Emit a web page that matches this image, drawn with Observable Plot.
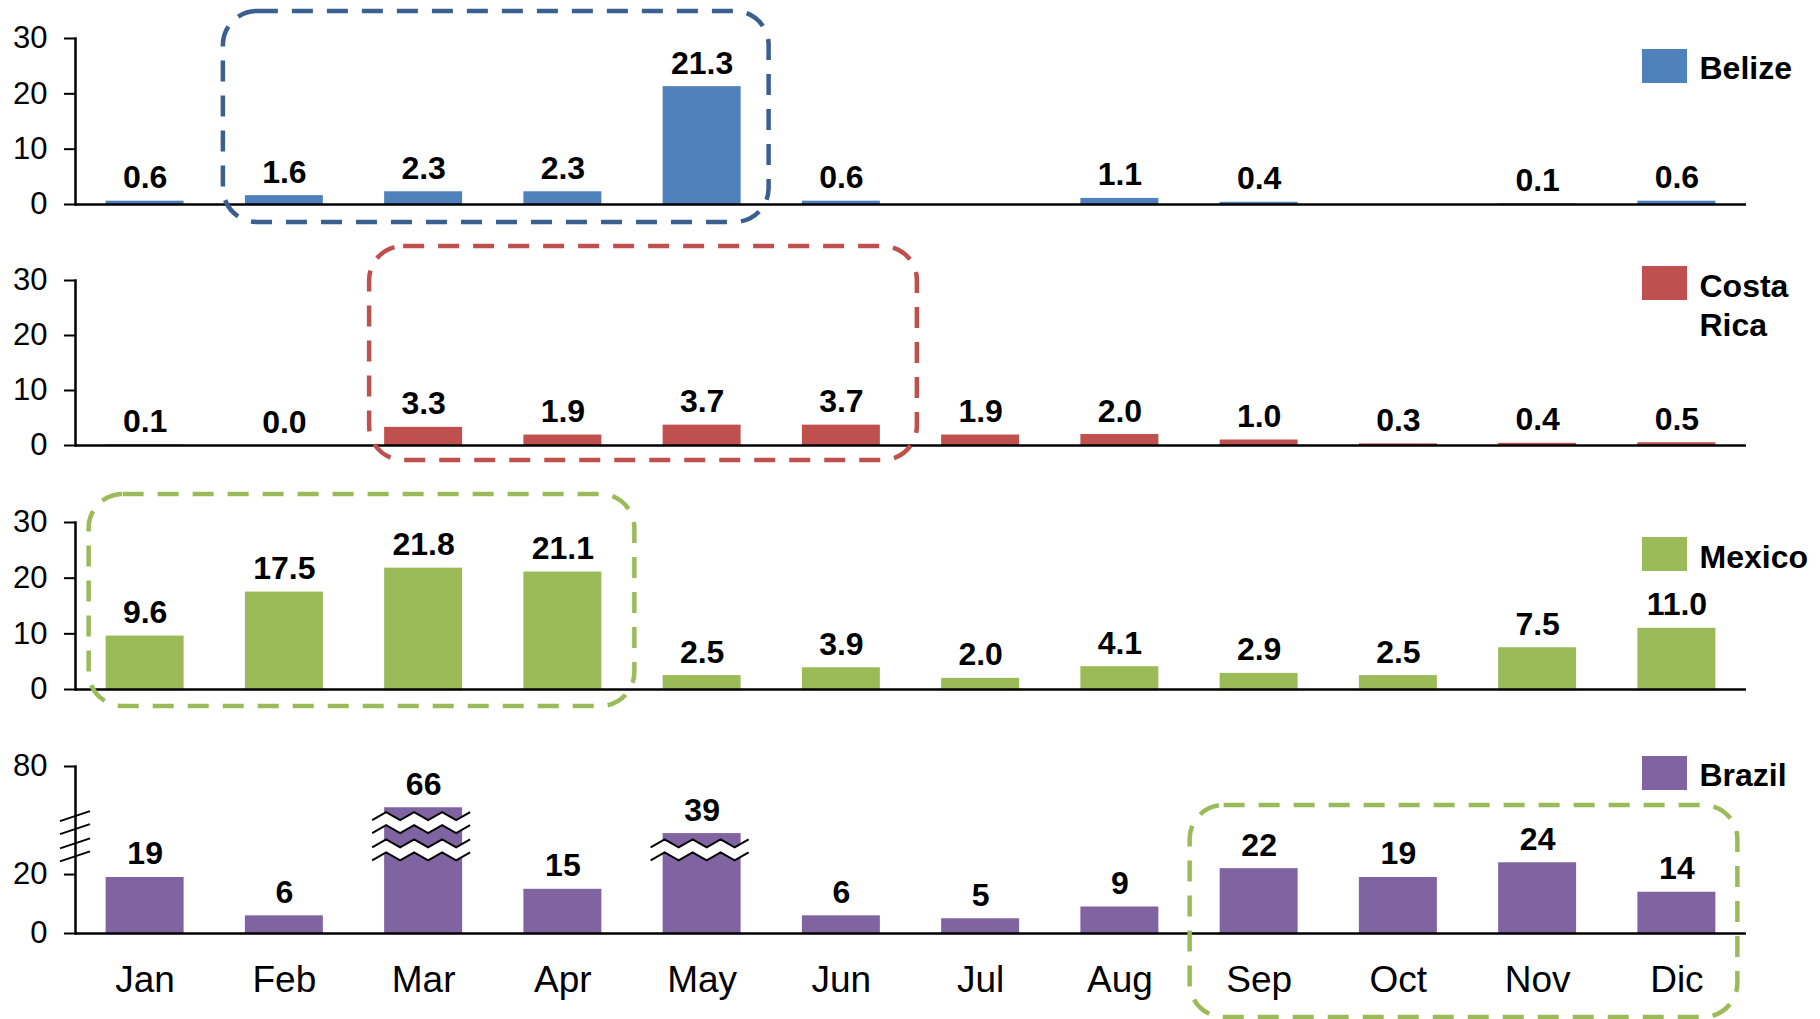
<!DOCTYPE html>
<html><head><meta charset="utf-8">
<script src="https://cdn.jsdelivr.net/npm/d3@7"></script>
<script src="https://cdn.jsdelivr.net/npm/@observablehq/plot@0.6"></script>
<style>
html,body{margin:0;padding:0;background:#fff;overflow:hidden}
#chart{position:relative;width:1820px;height:1019px;overflow:hidden;font-family:"Liberation Sans",Arial,sans-serif}
#chart svg{position:absolute;left:0}
</style></head><body><div id="chart"></div>
<script>
// ---- data ----
const months = ["Jan","Feb","Mar","Apr","May","Jun","Jul","Aug","Sep","Oct","Nov","Dic"];
const belize    = [0.6, 1.6, 2.3, 2.3, 21.3, 0.6, null, 1.1, 0.4, null, 0.1, 0.6];
const costaRica = [0.1, 0.0, 3.3, 1.9, 3.7, 3.7, 1.9, 2.0, 1.0, 0.3, 0.4, 0.5];
const mexico    = [9.6, 17.5, 21.8, 21.1, 2.5, 3.9, 2.0, 4.1, 2.9, 2.5, 7.5, 11.0];
const brazil    = [19, 6, 66, 15, 39, 6, 5, 9, 22, 19, 24, 14];
const seriesLabels = ["Belize", "Costa\nRica", "Mexico", "Brazil"];
const smallTicks = [0, 10, 20, 30];
const brazilTicks = [0, 20, 80];
// broken axis for Brazil: value knots -> axis units (26..63 is squeezed into the break)
const brazilKnots = [0, 26, 39, 63, 80];
const brazilAxisUnits = [0, 26, 33.9, 39.66, 56.66];
const highlights = [["Feb","May"], ["Mar","Jun"], ["Jan","Apr"], ["Sep","Dic"]];

const brokenAxis = d3.scaleLinear().domain(brazilKnots).range(brazilAxisUnits);

// ---- layout / style ----
const panels = [
  {values: belize, label: seriesLabels[0], color: "#4f81bd", fmt: ".1f", ticks: smallTicks,
   domain: [0, 30], top: 0, height: 242, base: 204,
   legendBaseline: 78, swatchTop: 49,
   box: {span: highlights[0], color: "#3b5f8f", l: 22, r: 28, t: 27, b: 18}},
  {values: costaRica, label: seriesLabels[1], color: "#c0504d", fmt: ".1f", ticks: smallTicks,
   domain: [0, 30], top: 242, height: 242, base: 203,
   legendBaseline: 93, swatchTop: 24,
   box: {span: highlights[1], color: "#c0504d", l: 15, r: 37, t: 34, b: 15}},
  {values: mexico, label: seriesLabels[2], color: "#9bbb59", fmt: ".1f", ticks: smallTicks,
   domain: [0, 30], top: 484, height: 244, base: 205,
   legendBaseline: 83, swatchTop: 53,
   box: {span: highlights[2], color: "#9bbb59", l: 17, r: 33, t: 28, b: 17}},
  {values: brazil, label: seriesLabels[3], color: "#8064a2", fmt: "d", ticks: brazilTicks,
   domain: [0, 80], transform: brokenAxis, top: 728, height: 291, base: 205,
   legendBaseline: 57.5, swatchTop: 28, xAxis: true,
   box: {span: highlights[3], color: "#9bbb59", l: 30, r: 22, t: -39, b: 84}}
];

const W = 1820, ML = 75, MR = 74, MT = 38;
const chart = document.getElementById("chart");

function zig(x0, x1, y, amp = 4, half = 14) {
  const pts = [];
  let i = 0;
  for (let x = x0; x <= x1 + 0.01; x += half, i++) pts.push([x, y + (i % 2 ? -amp : amp)]);
  return pts;
}

panels.forEach((p) => {
  const data = months.map((m, i) => ({month: m, value: p.values[i]})).filter(d => d.value != null);
  const fmt = d3.format(p.fmt);
  const tf = p.transform || (v => v);
  const marks = [
    Plot.barY(data, {x: "month", y: "value", fill: p.color}),
    Plot.text(data, {x: "month", y: "value", text: d => fmt(d.value), lineAnchor: "bottom", dy: -13,
      fontSize: 32, fontWeight: "bold", fill: "black"}),
    Plot.ruleY([0], {stroke: "black", strokeWidth: 2.5}),
    Plot.frame({anchor: "left", stroke: "black", strokeWidth: 2.5}),
    Plot.axisY(p.ticks, {tickSize: 11, tickPadding: 17, fontSize: 31, stroke: "black", strokeWidth: 2,
      tickFormat: d3.format("d"), fill: "black", label: null}),
    Plot.text([p.label], {frameAnchor: "top-right", textAnchor: "start", lineAnchor: "bottom",
      dx: 1699 - (W - MR), dy: p.legendBaseline - MT, fontSize: 32, fontWeight: "bold",
      lineHeight: 1.2, fill: "black"})
  ];
  if (p.xAxis) marks.push(Plot.axisX({tickSize: 0, tickPadding: 32, fontSize: 37, fill: "black", label: null}));

  const yOpts = {domain: p.domain.map(tf), label: null};
  if (p.transform) yOpts.transform = p.transform;

  const svg = Plot.plot({
    width: W, height: p.height,
    marginLeft: ML, marginRight: MR, marginTop: MT, marginBottom: p.height - p.base,
    style: {overflow: "visible", background: "transparent", color: "black",
            fontFamily: "'Liberation Sans', Arial, sans-serif"},
    x: {type: "band", domain: months, paddingInner: 0.44, paddingOuter: 0.22, round: false,
        axis: p.xAxis ? undefined : null, label: null},
    y: yOpts,
    marks
  });
  svg.style.top = p.top + "px";
  chart.appendChild(svg);

  const xsc = svg.scale("x"), ysc = svg.scale("y");
  const xs = v => xsc.apply(v);
  const ylin = d3.scaleLinear().domain(ysc.domain).range(ysc.range);
  const ys = v => ylin(tf(v));
  const bw = xsc.bandwidth;
  const g = d3.select(svg).append("g");

  // legend swatch
  g.append("rect").attr("x", 1642).attr("y", p.swatchTop).attr("width", 45).attr("height", 34).attr("fill", p.color);

  // Brazil broken-axis decorations
  if (p.transform) {
    const bands = [[ys(brazilKnots[3]), ys(brazilKnots[3]) + 13], [ys(brazilKnots[1]) - 13, ys(brazilKnots[1])]];
    bands.flat().forEach(y => {
      g.append("line").attr("x1", ML - 15).attr("y1", y + 5).attr("x2", ML + 15).attr("y2", y - 5)
        .attr("stroke", "black").attr("stroke-width", 2);
    });
    const line = d3.line();
    const breakBar = (month, bandList) => {
      const x0 = xs(month) - 12, x1 = xs(month) + bw + 12;
      bandList.forEach(([y0, y1]) => {
        const top = zig(x0, x1, y0), bot = zig(x0, x1, y1);
        g.append("path").attr("d", line(top.concat(bot.slice().reverse())) + "Z").attr("fill", "white");
        g.append("path").attr("d", line(top)).attr("fill", "none").attr("stroke", "black").attr("stroke-width", 2);
        g.append("path").attr("d", line(bot)).attr("fill", "none").attr("stroke", "black").attr("stroke-width", 2);
      });
    };
    breakBar("Mar", bands);
    breakBar("May", [bands[1]]);
  }

  // dashed highlight box
  const b = p.box;
  const bx0 = xs(b.span[0]) - b.l;
  const bx1 = xs(b.span[1]) + bw + b.r;
  const by0 = ys(p.domain[1]) - b.t;
  const by1 = ys(0) + b.b;
  g.append("rect").attr("x", bx0).attr("y", by0).attr("width", bx1 - bx0).attr("height", by1 - by0)
    .attr("rx", 34).attr("ry", 34).attr("fill", "none").attr("stroke", b.color)
    .attr("stroke-width", 4.5).attr("stroke-dasharray", "21 14");
});
</script></body></html>
